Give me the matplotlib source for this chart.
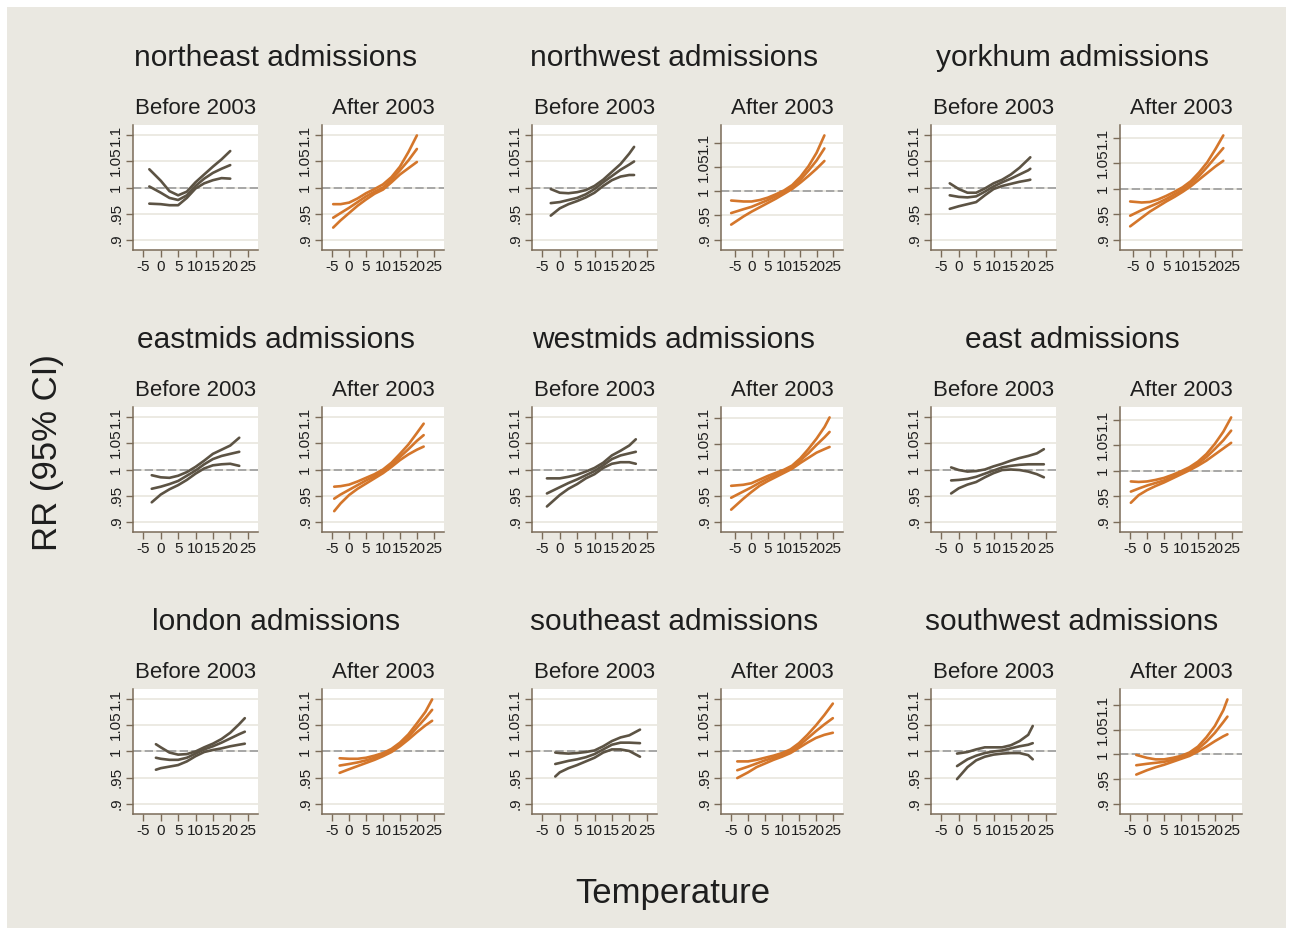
import matplotlib.pyplot as plt
from matplotlib.patches import Rectangle

plt.rcParams['font.family'] = ['Liberation Sans', 'DejaVu Sans']

# --- data: temperature, upper CI, RR, lower CI ---
regions = ['northeast', 'northwest', 'yorkhum', 'eastmids', 'westmids',
           'east', 'london', 'southeast', 'southwest']
x_ticks = [-5, 0, 5, 10, 15, 20, 25]
x_labels = ['-5', '0', '5', '10', '15', '20', '25']
y_ticks = [0.9, 0.95, 1.0, 1.05, 1.1]
y_labels = ['.9', '.95', '1', '1.05', '1.1']

northeast_before_t = [-3.3, 0, 2.5, 5, 7.5, 10, 12.5, 15, 17.5, 20]
northeast_before_hi = [1.035, 1.013, 0.993, 0.985, 0.992, 1.01, 1.025, 1.04, 1.054, 1.07]
northeast_before_rr = [1.002, 0.99, 0.98, 0.976, 0.985, 1.003, 1.017, 1.028, 1.036, 1.043]
northeast_before_lo = [0.969, 0.968, 0.966, 0.966, 0.98, 0.998, 1.008, 1.014, 1.018, 1.017]
northeast_after_t = [-4.7, -2.5, 0, 2.5, 5, 7.5, 10, 12.5, 15, 17.5, 20]
northeast_after_hi = [0.968, 0.968, 0.971, 0.979, 0.989, 0.997, 1.006, 1.02, 1.04, 1.068, 1.1]
northeast_after_rr = [0.942, 0.951, 0.961, 0.972, 0.983, 0.992, 1.0, 1.015, 1.033, 1.052, 1.074]
northeast_after_lo = [0.923, 0.937, 0.951, 0.965, 0.977, 0.988, 0.996, 1.01, 1.025, 1.037, 1.049]

northwest_before_t = [-2.6, 0, 2.5, 5, 7.5, 10, 12.5, 15, 17.5, 20, 21.4]
northwest_before_hi = [0.997, 0.99, 0.989, 0.991, 0.995, 1.003, 1.015, 1.03, 1.045, 1.065, 1.078]
northwest_before_rr = [0.970, 0.972, 0.976, 0.98, 0.987, 0.997, 1.01, 1.022, 1.034, 1.044, 1.05]
northwest_before_lo = [0.946, 0.96, 0.968, 0.974, 0.981, 0.99, 1.003, 1.014, 1.021, 1.024, 1.024]
northwest_after_t = [-6.3, -2.5, 0, 2.5, 5, 7.5, 10, 12.5, 15, 17.5, 20, 22.4]
northwest_after_hi = [0.981, 0.979, 0.979, 0.982, 0.987, 0.994, 1.002, 1.013, 1.03, 1.052, 1.08, 1.116]
northwest_after_rr = [0.955, 0.963, 0.968, 0.975, 0.982, 0.99, 0.998, 1.009, 1.024, 1.043, 1.064, 1.089]
northwest_after_lo = [0.931, 0.948, 0.958, 0.967, 0.976, 0.985, 0.995, 1.005, 1.018, 1.032, 1.047, 1.063]

yorkhum_before_t = [-2.6, 0, 2.5, 5, 7.5, 10, 12.5, 15, 17.5, 20, 20.6]
yorkhum_before_hi = [1.008, 0.997, 0.99, 0.99, 0.998, 1.008, 1.015, 1.025, 1.038, 1.054, 1.058]
yorkhum_before_rr = [0.985, 0.982, 0.981, 0.983, 0.992, 1.002, 1.01, 1.017, 1.025, 1.033, 1.036]
yorkhum_before_lo = [0.959, 0.964, 0.968, 0.972, 0.985, 0.997, 1.003, 1.007, 1.011, 1.014, 1.015]
yorkhum_after_t = [-6, -2.5, 0, 2.5, 5, 7.5, 10, 12.5, 15, 17.5, 20, 22.4]
yorkhum_after_hi = [0.975, 0.973, 0.974, 0.979, 0.986, 0.994, 1.003, 1.015, 1.032, 1.052, 1.078, 1.105]
yorkhum_after_rr = [0.947, 0.958, 0.965, 0.972, 0.98, 0.989, 0.998, 1.01, 1.025, 1.043, 1.062, 1.08]
yorkhum_after_lo = [0.926, 0.943, 0.955, 0.965, 0.975, 0.984, 0.994, 1.005, 1.018, 1.031, 1.044, 1.055]

eastmids_before_t = [-2.6, 0, 2.5, 5, 7.5, 10, 12.5, 15, 17.5, 20, 22.6]
eastmids_before_hi = [0.989, 0.985, 0.984, 0.988, 0.995, 1.005, 1.017, 1.03, 1.038, 1.046, 1.061]
eastmids_before_rr = [0.963, 0.967, 0.972, 0.978, 0.988, 0.998, 1.01, 1.02, 1.026, 1.03, 1.034]
eastmids_before_lo = [0.937, 0.952, 0.962, 0.97, 0.98, 0.992, 1.002, 1.008, 1.01, 1.011, 1.007]
eastmids_after_t = [-4.4, -2.5, 0, 2.5, 5, 7.5, 10, 12.5, 15, 17.5, 20, 22]
eastmids_after_hi = [0.967, 0.968, 0.971, 0.977, 0.984, 0.991, 1.0, 1.013, 1.03, 1.048, 1.07, 1.088]
eastmids_after_rr = [0.944, 0.952, 0.961, 0.97, 0.979, 0.987, 0.996, 1.009, 1.024, 1.039, 1.055, 1.066]
eastmids_after_lo = [0.92, 0.935, 0.951, 0.963, 0.973, 0.983, 0.993, 1.005, 1.018, 1.029, 1.038, 1.044]

westmids_before_t = [-3.7, 0, 2.5, 5, 7.5, 10, 12.5, 15, 17.5, 20, 21.9]
westmids_before_hi = [0.983, 0.983, 0.986, 0.99, 0.996, 1.003, 1.013, 1.027, 1.036, 1.046, 1.058]
westmids_before_rr = [0.954, 0.966, 0.974, 0.981, 0.989, 0.997, 1.008, 1.02, 1.027, 1.031, 1.034]
westmids_before_lo = [0.929, 0.951, 0.963, 0.972, 0.983, 0.991, 1.003, 1.011, 1.014, 1.014, 1.011]
westmids_after_t = [-6.2, -2.5, 0, 2.5, 5, 7.5, 10, 12.5, 15, 17.5, 20, 22.5, 24]
westmids_after_hi = [0.969, 0.971, 0.974, 0.981, 0.988, 0.994, 1.0, 1.008, 1.022, 1.04, 1.06, 1.083, 1.101]
westmids_after_rr = [0.946, 0.958, 0.966, 0.975, 0.983, 0.99, 0.997, 1.005, 1.018, 1.032, 1.048, 1.063, 1.073]
westmids_after_lo = [0.923, 0.944, 0.957, 0.969, 0.978, 0.986, 0.994, 1.002, 1.013, 1.023, 1.033, 1.04, 1.044]

east_before_t = [-2.2, 0, 2.5, 5, 7.5, 10, 12.5, 15, 17.5, 20, 22.5, 24.5]
east_before_hi = [1.004, 0.999, 0.996, 0.997, 1.0, 1.006, 1.011, 1.017, 1.022, 1.026, 1.031, 1.039]
east_before_rr = [0.979, 0.98, 0.982, 0.986, 0.992, 0.998, 1.004, 1.007, 1.009, 1.01, 1.01, 1.01]
east_before_lo = [0.954, 0.964, 0.971, 0.976, 0.985, 0.993, 0.999, 1.0, 0.999, 0.996, 0.991, 0.985]
east_after_t = [-4.8, -2.5, 0, 2.5, 5, 7.5, 10, 12.5, 15, 17.5, 20, 22.5, 24.8]
east_after_hi = [0.979, 0.978, 0.979, 0.982, 0.986, 0.992, 0.999, 1.007, 1.018, 1.033, 1.053, 1.077, 1.105]
east_after_rr = [0.959, 0.965, 0.971, 0.976, 0.981, 0.988, 0.996, 1.004, 1.014, 1.027, 1.043, 1.06, 1.079]
east_after_lo = [0.937, 0.952, 0.962, 0.97, 0.977, 0.985, 0.993, 1.001, 1.01, 1.02, 1.032, 1.044, 1.055]

london_before_t = [-1.4, 0, 2.5, 5, 7.5, 10, 12.5, 15, 17.5, 20, 22.5, 24.2]
london_before_hi = [1.014, 1.008, 0.998, 0.994, 0.995, 1.0, 1.008, 1.015, 1.024, 1.036, 1.052, 1.064]
london_before_rr = [0.988, 0.986, 0.984, 0.984, 0.988, 0.996, 1.004, 1.01, 1.017, 1.025, 1.033, 1.038]
london_before_lo = [0.965, 0.968, 0.971, 0.974, 0.981, 0.991, 0.999, 1.003, 1.006, 1.01, 1.013, 1.015]
london_after_t = [-2.8, 0, 2.5, 5, 7.5, 10, 12.5, 15, 17.5, 20, 22.5, 24.5]
london_after_hi = [0.987, 0.986, 0.986, 0.988, 0.992, 0.997, 1.005, 1.017, 1.033, 1.054, 1.076, 1.1]
london_after_rr = [0.973, 0.976, 0.979, 0.983, 0.988, 0.994, 1.002, 1.013, 1.028, 1.046, 1.064, 1.08]
london_after_lo = [0.959, 0.966, 0.972, 0.978, 0.984, 0.991, 0.999, 1.01, 1.023, 1.037, 1.05, 1.059]

southeast_before_t = [-1.3, 0, 2.5, 5, 7.5, 10, 12.5, 15, 17.5, 20, 23.1]
southeast_before_hi = [0.998, 0.997, 0.996, 0.997, 0.999, 1.002, 1.01, 1.02, 1.027, 1.031, 1.042]
southeast_before_rr = [0.976, 0.978, 0.982, 0.985, 0.989, 0.995, 1.004, 1.013, 1.017, 1.017, 1.016]
southeast_before_lo = [0.952, 0.96, 0.968, 0.974, 0.981, 0.988, 0.998, 1.004, 1.004, 1.001, 0.99]
southeast_after_t = [-3.2, 0, 2.5, 5, 7.5, 10, 12.5, 15, 17.5, 20, 22.5, 25]
southeast_after_hi = [0.981, 0.981, 0.984, 0.988, 0.992, 0.997, 1.004, 1.016, 1.032, 1.05, 1.07, 1.092]
southeast_after_rr = [0.964, 0.971, 0.977, 0.983, 0.988, 0.993, 1.0, 1.011, 1.025, 1.039, 1.052, 1.064]
southeast_after_lo = [0.949, 0.96, 0.97, 0.977, 0.984, 0.99, 0.997, 1.007, 1.017, 1.026, 1.032, 1.036]

southwest_before_t = [-0.5, 2.5, 5, 7.5, 10, 12.5, 15, 17.5, 20, 21.3]
southwest_before_hi = [0.996, 0.999, 1.004, 1.008, 1.008, 1.008, 1.012, 1.02, 1.032, 1.049]
southwest_before_rr = [0.972, 0.985, 0.992, 0.997, 1.0, 1.002, 1.006, 1.01, 1.013, 1.016]
southwest_before_lo = [0.947, 0.97, 0.983, 0.99, 0.994, 0.996, 0.997, 0.997, 0.993, 0.985]
southwest_after_t = [-3.2, 0, 2.5, 5, 7.5, 10, 12.5, 15, 17.5, 20, 22.5, 23.7]
southwest_after_hi = [0.999, 0.993, 0.99, 0.99, 0.993, 0.997, 1.004, 1.016, 1.035, 1.058, 1.09, 1.112]
southwest_after_rr = [0.978, 0.981, 0.983, 0.985, 0.989, 0.994, 1.0, 1.011, 1.026, 1.044, 1.066, 1.077]
southwest_after_lo = [0.959, 0.968, 0.974, 0.979, 0.985, 0.991, 0.997, 1.006, 1.016, 1.027, 1.037, 1.041]

# --- style ---
W, H = 1293, 935
BG = '#eae8e1'
AXC = '#7a6b58'
TXT = '#1e1e1e'
C_BEFORE = '#5c5344'
C_AFTER = '#d4762b'


def px(x, y, w, h):
    return [x / W, 1 - (y + h) / H, w / W, h / H]


def draw_panel(ax, t, hi, rr, lo, color):
    ax.set_facecolor('white')
    for yy in (hi, rr, lo):
        ax.plot(t, yy, color=color, lw=1.9, solid_capstyle='round', zorder=3)
    ax.axhline(1, color='#9b9b9b', lw=1.2, ls=(0, (5, 2)), zorder=2)
    # Stata style range: always cover .9-1.1 and -5..25, plus 10% margin
    ylo, yhi = min(0.9, min(lo)), max(1.1, max(hi))
    dy = 0.1 * (yhi - ylo)
    ax.set_ylim(ylo - dy, yhi + dy)
    xlo, xhi = min(-5, t[0]), max(25, t[-1])
    dx = 0.1 * (xhi - xlo)
    ax.set_xlim(xlo - dx, xhi + dx)
    ax.set_yticks(y_ticks)
    ax.set_yticklabels(y_labels, rotation=90, va='center', fontsize=11, color=TXT)
    ax.set_xticks(x_ticks)
    ax.set_xticklabels(x_labels, fontsize=11, color=TXT)
    ax.grid(axis='y', color=BG, lw=1.3, zorder=1)
    ax.set_axisbelow(True)
    for s in ('top', 'right'):
        ax.spines[s].set_visible(False)
    for s in ('left', 'bottom'):
        ax.spines[s].set_color(AXC)
        ax.spines[s].set_linewidth(1.1)
    ax.tick_params(length=5, width=1, color=AXC, pad=2)


fig = plt.figure(figsize=(W / 100, H / 100), dpi=100, facecolor='white')
fig.patches.append(Rectangle((7 / W, 7 / H), 1 - 14 / W, 1 - 14 / H,
                             transform=fig.transFigure, facecolor=BG,
                             edgecolor='none', zorder=-10))

g = globals()
for i, name in enumerate(regions):
    r, c = divmod(i, 3)
    top = 125 + 282 * r
    fig.text((276 + 398 * c) / W, 1 - (58 + 282 * r) / H, name + ' admissions',
             ha='center', va='center', fontsize=21.5, color=TXT)
    for k, (period, left, width, color, title) in enumerate([
            ('before', 133, 125, C_BEFORE, 'Before 2003'),
            ('after', 322, 122, C_AFTER, 'After 2003')]):
        x0 = left + 399 * c
        ax = fig.add_axes(px(x0, top, width, 125))
        draw_panel(ax, g[f'{name}_{period}_t'], g[f'{name}_{period}_hi'],
                   g[f'{name}_{period}_rr'], g[f'{name}_{period}_lo'], color)
        fig.text((x0 + width / 2) / W, 1 - (top - 17) / H, title,
                 ha='center', va='center', fontsize=16, color=TXT)

fig.text(48 / W, 1 - 453 / H, 'RR (95% CI)', rotation=90, ha='center',
         va='center', fontsize=25, color=TXT)
fig.text(673 / W, 1 - 893 / H, 'Temperature', ha='center', va='center',
         fontsize=25, color=TXT)

fig.savefig('out.png', dpi=100, facecolor=fig.get_facecolor())
